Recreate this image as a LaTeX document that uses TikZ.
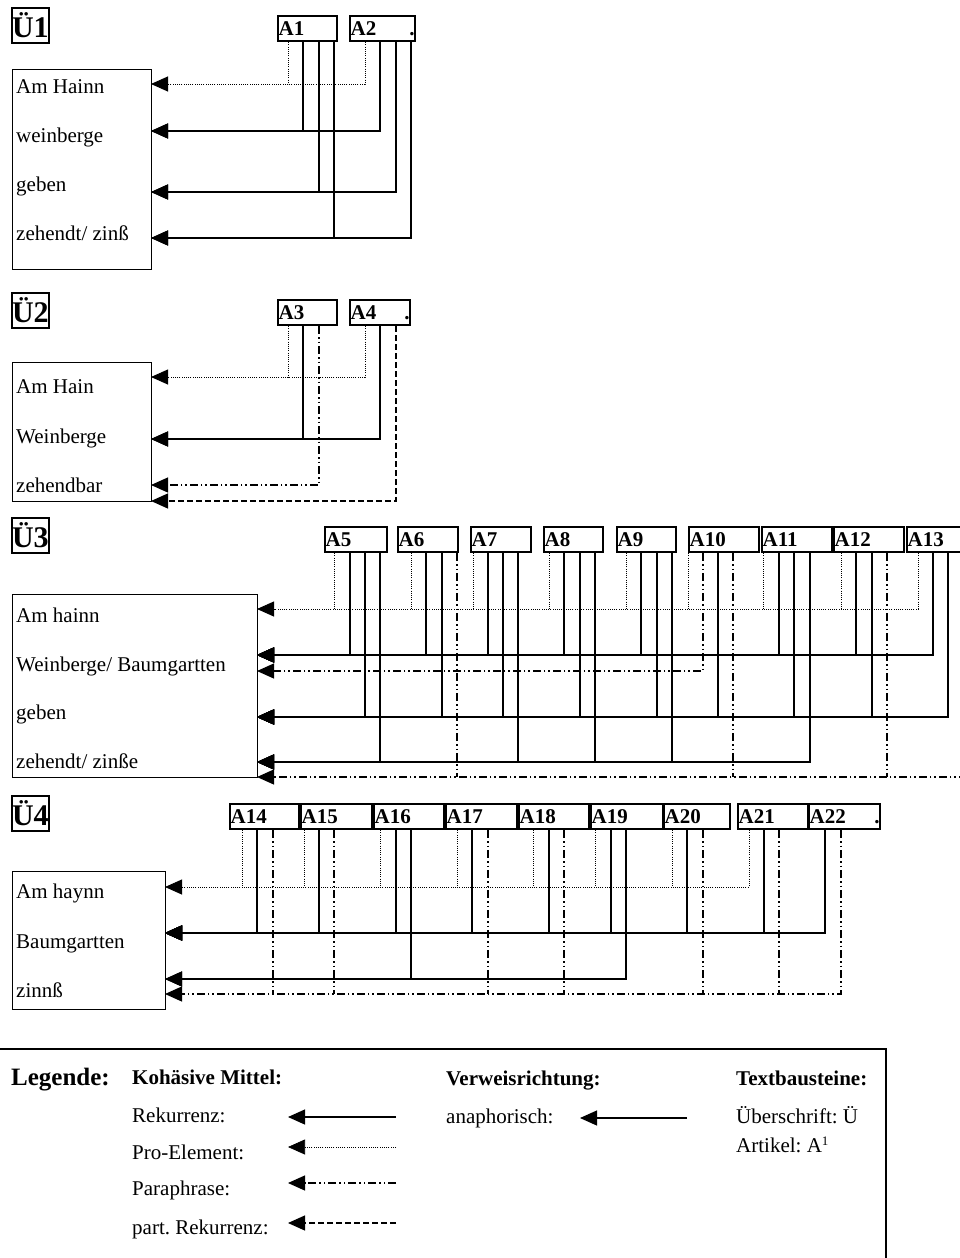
\documentclass[tikz,border=0pt]{standalone}
\usepackage{fontspec}
\setmainfont{Liberation Serif}
\usetikzlibrary{arrows.meta}

\tikzset{
  ulabel/.style={draw,line width=1.8pt,anchor=north west,inner sep=0pt,
    minimum width=37pt,minimum height=35pt,font=\fontsize{30}{30}\selectfont\bfseries},
  textbox/.style={draw,line width=1.3pt,anchor=north west,inner sep=0pt},
  rowtext/.style={anchor=base west,inner sep=0pt,font=\fontsize{21}{21}\selectfont},
  abox/.style={draw,line width=2.2pt,anchor=north west,minimum height=25pt,
    inner xsep=0.5pt,inner ysep=0pt,align=left,font=\fontsize{21}{21}\selectfont\bfseries},
  legbold/.style={anchor=base west,inner sep=0pt,font=\fontsize{21}{21}\selectfont\bfseries},
  rek/.style={line width=1.2pt},
  pro/.style={line width=0.9pt,dash pattern=on 1pt off 1.2pt},
  para/.style={line width=1.2pt,dash pattern=on 8pt off 3pt on 1.5pt off 3pt on 1.5pt off 3pt},
  prek/.style={line width=1.2pt,dash pattern=on 6pt off 3pt},
  tip/.style={-{Triangle[length=17pt,width=15pt]}},
}

\begin{document}
\frenchspacing
\begin{tikzpicture}[x=1pt,y=-1pt]
  \useasboundingbox (0,0) rectangle (960,1258);
  \clip (0,0) rectangle (960,1258);

  % --- Ü1 ---
  \node[ulabel] (u1) at (11,7) {Ü1};
  \node[textbox,minimum width=139pt,minimum height=200pt] (u1box) at (12,69) {};
  \node[rowtext] (u1t1) at (16,93) {Am Hainn};
  \node[rowtext] (u1t2) at (16,142) {weinberge};
  \node[rowtext] (u1t3) at (16,191) {geben};
  \node[rowtext] (u1t4) at (16,240) {zehendt/ zinß};
  \coordinate (u1r1) at (151,84);
  \coordinate (u1r2) at (151,131);
  \coordinate (u1r3) at (151,192);
  \coordinate (u1r4) at (151,238);
  \node[abox,text width=58pt] (a1) at (277,15) {A1};
  \node[abox,text width=64pt] (a2) at (349,15) {A2\hfill.};
  \draw[pro,tip] ([xshift=16pt]a2.south west) |- (u1r1);
  \draw[pro] ([xshift=11pt]a1.south west) -- ([xshift=11pt]a1.south west |- u1r1);
  \draw[rek,tip] ([xshift=26pt]a1.south west) |- (u1r2);
  \draw[rek,tip] ([xshift=31pt]a2.south west) |- (u1r2);
  \draw[rek,tip] ([xshift=42pt]a1.south west) |- (u1r3);
  \draw[rek,tip] ([xshift=47pt]a2.south west) |- (u1r3);
  \draw[rek,tip] ([xshift=57pt]a1.south west) |- (u1r4);
  \draw[rek,tip] ([xshift=62pt]a2.south west) |- (u1r4);

  % --- Ü2 ---
  \node[ulabel] (u2) at (11,292) {Ü2};
  \node[textbox,minimum width=139pt,minimum height=139pt] (u2box) at (12,362) {};
  \node[rowtext] (u2t1) at (16,393) {Am Hain};
  \node[rowtext] (u2t2) at (16,443) {Weinberge};
  \node[rowtext] (u2t3) at (16,492) {zehendbar};
  \coordinate (u2r1) at (151,377);
  \coordinate (u2r2) at (151,439);
  \coordinate (u2r3) at (151,485);
  \coordinate (u2r4) at (151,501);
  \node[abox,text width=58pt] (a3) at (277,299) {A3};
  \node[abox,text width=59pt] (a4) at (349,299) {A4\hfill.};
  \draw[pro,tip] ([xshift=16pt]a4.south west) |- (u2r1);
  \draw[pro] ([xshift=11pt]a3.south west) -- ([xshift=11pt]a3.south west |- u2r1);
  \draw[rek,tip] ([xshift=26pt]a3.south west) |- (u2r2);
  \draw[rek,tip] ([xshift=31pt]a4.south west) |- (u2r2);
  \draw[para,tip] ([xshift=42pt]a3.south west) |- (u2r3);
  \draw[prek,tip] ([xshift=47pt]a4.south west) |- (u2r4);

  % --- Ü3 ---
  \node[ulabel] (u3) at (11,517) {Ü3};
  \node[textbox,minimum width=245pt,minimum height=183pt] (u3box) at (12,594) {};
  \node[rowtext] (u3t1) at (16,622) {Am hainn};
  \node[rowtext] (u3t2) at (16,671) {Weinberge/ Baumgartten};
  \node[rowtext] (u3t3) at (16,719) {geben};
  \node[rowtext] (u3t4) at (16,768) {zehendt/ zinße};
  \coordinate (u3r1) at (257,609);
  \coordinate (u3r2) at (257,655);
  \coordinate (u3r2p) at (257,671);
  \coordinate (u3r3) at (257,717);
  \coordinate (u3r4) at (257,762);
  \coordinate (u3r4p) at (257,777);
  \node[abox,text width=61pt] (a5) at (324,526) {A5};
  \node[abox,text width=59pt] (a6) at (397,526) {A6};
  \node[abox,text width=59pt] (a7) at (470,526) {A7};
  \node[abox,text width=58pt] (a8) at (543,526) {A8};
  \node[abox,text width=58pt] (a9) at (616,526) {A9};
  \node[abox,text width=69pt] (a10) at (688,526) {A10};
  \node[abox,text width=69pt] (a11) at (761,526) {A11};
  \node[abox,text width=69pt] (a12) at (833,526) {A12};
  \node[abox,text width=69pt] (a13) at (906,526) {A13};
  % Pro-Element
  \draw[pro,tip] ([xshift=12pt]a13.south west) |- (u3r1);
  \draw[pro] ([xshift=10pt]a5.south west) -- ([xshift=10pt]a5.south west |- u3r1);
  \draw[pro] ([xshift=14pt]a6.south west) -- ([xshift=14pt]a6.south west |- u3r1);
  \draw[pro] ([xshift=3pt]a7.south west) -- ([xshift=3pt]a7.south west |- u3r1);
  \draw[pro] ([xshift=6pt]a8.south west) -- ([xshift=6pt]a8.south west |- u3r1);
  \draw[pro] ([xshift=10pt]a9.south west) -- ([xshift=10pt]a9.south west |- u3r1);
  \draw[pro] ([xshift=0pt]a10.south west) -- ([xshift=0pt]a10.south west |- u3r1);
  \draw[pro] ([xshift=2pt]a11.south west) -- ([xshift=2pt]a11.south west |- u3r1);
  \draw[pro] ([xshift=8pt]a12.south west) -- ([xshift=8pt]a12.south west |- u3r1);
  % Weinberge/ Baumgartten
  \draw[rek,tip] ([xshift=26pt]a5.south west) |- (u3r2);
  \draw[rek,tip] ([xshift=29pt]a6.south west) |- (u3r2);
  \draw[rek,tip] ([xshift=18pt]a7.south west) |- (u3r2);
  \draw[rek,tip] ([xshift=21pt]a8.south west) |- (u3r2);
  \draw[rek,tip] ([xshift=25pt]a9.south west) |- (u3r2);
  \draw[rek,tip] ([xshift=18pt]a11.south west) |- (u3r2);
  \draw[rek,tip] ([xshift=23pt]a12.south west) |- (u3r2);
  \draw[rek,tip] ([xshift=27pt]a13.south west) |- (u3r2);
  \draw[para,tip] ([xshift=15pt]a10.south west) |- (u3r2p);
  % geben
  \draw[rek,tip] ([xshift=41pt]a5.south west) |- (u3r3);
  \draw[rek,tip] ([xshift=45pt]a6.south west) |- (u3r3);
  \draw[rek,tip] ([xshift=33pt]a7.south west) |- (u3r3);
  \draw[rek,tip] ([xshift=37pt]a8.south west) |- (u3r3);
  \draw[rek,tip] ([xshift=41pt]a9.south west) |- (u3r3);
  \draw[rek,tip] ([xshift=30pt]a10.south west) |- (u3r3);
  \draw[rek,tip] ([xshift=33pt]a11.south west) |- (u3r3);
  \draw[rek,tip] ([xshift=39pt]a12.south west) |- (u3r3);
  \draw[rek,tip] ([xshift=42pt]a13.south west) |- (u3r3);
  % zehendt/ zinße
  \draw[rek,tip] ([xshift=56pt]a5.south west) |- (u3r4);
  \draw[rek,tip] ([xshift=48pt]a7.south west) |- (u3r4);
  \draw[rek,tip] ([xshift=52pt]a8.south west) |- (u3r4);
  \draw[rek,tip] ([xshift=56pt]a9.south west) |- (u3r4);
  \draw[rek,tip] ([xshift=49pt]a11.south west) |- (u3r4);
  \draw[para,tip] ([xshift=57pt]a13.south west) |- (u3r4p);
  \draw[para] ([xshift=60pt]a6.south west) -- ([xshift=60pt]a6.south west |- u3r4p);
  \draw[para] ([xshift=45pt]a10.south west) -- ([xshift=45pt]a10.south west |- u3r4p);
  \draw[para] ([xshift=54pt]a12.south west) -- ([xshift=54pt]a12.south west |- u3r4p);

  % --- Ü4 ---
  \node[ulabel] (u4) at (11,795) {Ü4};
  \node[textbox,minimum width=153pt,minimum height=138pt] (u4box) at (12,871) {};
  \node[rowtext] (u4t1) at (16,898) {Am haynn};
  \node[rowtext] (u4t2) at (16,948) {Baumgartten};
  \node[rowtext] (u4t3) at (16,997) {zinnß};
  \coordinate (u4r1) at (165,887);
  \coordinate (u4r2) at (165,933);
  \coordinate (u4r3) at (165,979);
  \coordinate (u4r3p) at (165,994);
  \node[abox,text width=68pt] (a14) at (229,803) {A14};
  \node[abox,text width=70pt] (a15) at (300,803) {A15};
  \node[abox,text width=69pt] (a16) at (373,803) {A16};
  \node[abox,text width=70pt] (a17) at (445,803) {A17};
  \node[abox,text width=69pt] (a18) at (518,803) {A18};
  \node[abox,text width=71pt] (a19) at (590,803) {A19};
  \node[abox,text width=65pt] (a20) at (663,803) {A20};
  \node[abox,text width=69pt] (a21) at (737,803) {A21};
  \node[abox,text width=70pt] (a22) at (808,803) {A22\hfill.};
  % Pro-Element
  \draw[pro,tip] ([xshift=12pt]a21.south west) |- (u4r1);
  \draw[pro] ([xshift=13pt]a14.south west) -- ([xshift=13pt]a14.south west |- u4r1);
  \draw[pro] ([xshift=4pt]a15.south west) -- ([xshift=4pt]a15.south west |- u4r1);
  \draw[pro] ([xshift=7pt]a16.south west) -- ([xshift=7pt]a16.south west |- u4r1);
  \draw[pro] ([xshift=12pt]a17.south west) -- ([xshift=12pt]a17.south west |- u4r1);
  \draw[pro] ([xshift=15pt]a18.south west) -- ([xshift=15pt]a18.south west |- u4r1);
  \draw[pro] ([xshift=5pt]a19.south west) -- ([xshift=5pt]a19.south west |- u4r1);
  \draw[pro] ([xshift=9pt]a20.south west) -- ([xshift=9pt]a20.south west |- u4r1);
  % Baumgartten
  \draw[rek,tip] ([xshift=28pt]a14.south west) |- (u4r2);
  \draw[rek,tip] ([xshift=19pt]a15.south west) |- (u4r2);
  \draw[rek,tip] ([xshift=23pt]a16.south west) |- (u4r2);
  \draw[rek,tip] ([xshift=27pt]a17.south west) |- (u4r2);
  \draw[rek,tip] ([xshift=31pt]a18.south west) |- (u4r2);
  \draw[rek,tip] ([xshift=21pt]a19.south west) |- (u4r2);
  \draw[rek,tip] ([xshift=24pt]a20.south west) |- (u4r2);
  \draw[rek,tip] ([xshift=27pt]a21.south west) |- (u4r2);
  \draw[rek,tip] ([xshift=17pt]a22.south west) |- (u4r2);
  % zinnß
  \draw[rek,tip] ([xshift=38pt]a16.south west) |- (u4r3);
  \draw[rek,tip] ([xshift=36pt]a19.south west) |- (u4r3);
  \draw[para,tip] ([xshift=33pt]a22.south west) |- (u4r3p);
  \draw[para] ([xshift=44pt]a14.south west) -- ([xshift=44pt]a14.south west |- u4r3p);
  \draw[para] ([xshift=34pt]a15.south west) -- ([xshift=34pt]a15.south west |- u4r3p);
  \draw[para] ([xshift=43pt]a17.south west) -- ([xshift=43pt]a17.south west |- u4r3p);
  \draw[para] ([xshift=46pt]a18.south west) -- ([xshift=46pt]a18.south west |- u4r3p);
  \draw[para] ([xshift=40pt]a20.south west) -- ([xshift=40pt]a20.south west |- u4r3p);
  \draw[para] ([xshift=42pt]a21.south west) -- ([xshift=42pt]a21.south west |- u4r3p);

  % --- Legende ---
  \draw[line width=1.3pt] (-5,1049) rectangle (886,1280);
  \node[anchor=base west,inner sep=0pt,font=\fontsize{25}{25}\selectfont\bfseries] (leg) at (11,1085) {Legende:};
  \node[legbold] (kohm) at (132,1084) {Kohäsive Mittel:};
  \node[legbold] (verw) at (446,1085) {Verweisrichtung:};
  \node[legbold] (textb) at (736,1085) {Textbausteine:};
  \node[rowtext] (lrek) at (132,1122) {Rekurrenz:};
  \node[rowtext] (lpro) at (132,1159) {Pro-Element:};
  \node[rowtext] (lpara) at (132,1195) {Paraphrase:};
  \node[rowtext] (lprek) at (132,1234) {part.\ Rekurrenz:};
  \node[rowtext] (lana) at (446,1123) {anaphorisch:};
  \node[rowtext] (lueb) at (736,1123) {Überschrift: Ü};
  \node[rowtext] (lart) at (736,1152) {Artikel: A{\fontsize{13}{13}\selectfont\raisebox{7pt}{1}}};
  \coordinate (l1a) at (396,1117); \coordinate (l1b) at (288,1117);
  \coordinate (l2a) at (396,1147); \coordinate (l2b) at (288,1147);
  \coordinate (l3a) at (396,1183); \coordinate (l3b) at (288,1183);
  \coordinate (l4a) at (396,1223); \coordinate (l4b) at (288,1223);
  \coordinate (l5a) at (687,1118); \coordinate (l5b) at (580,1118);
  \draw[rek,tip] (l1a) -- (l1b);
  \draw[pro,line width=0.7pt,tip] (l2a) -- (l2b);
  \draw[para,tip] (l3a) -- (l3b);
  \draw[prek,tip] (l4a) -- (l4b);
  \draw[rek,tip] (l5a) -- (l5b);
\end{tikzpicture}
\end{document}
